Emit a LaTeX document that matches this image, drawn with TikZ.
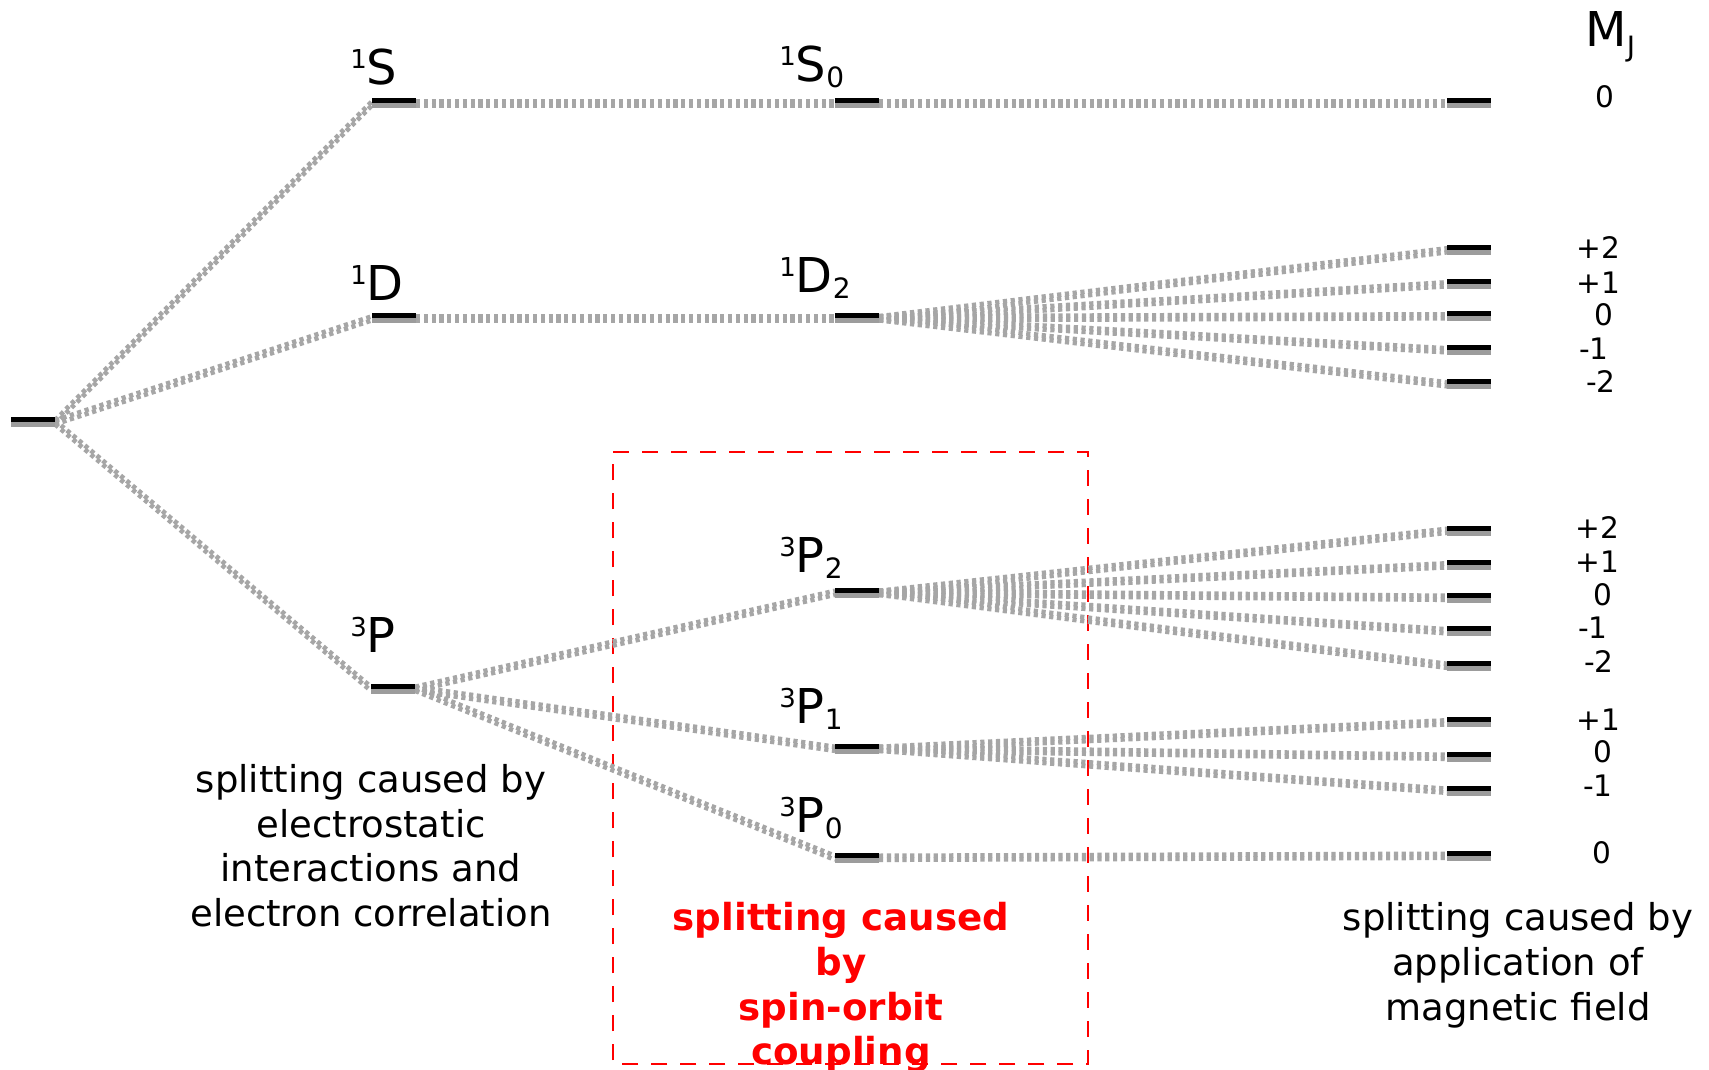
\documentclass[tikz,border=0pt]{standalone}
\usepackage{fontspec}
\setmainfont{DejaVu Sans}
\usetikzlibrary{calc}
\definecolor{conngray}{HTML}{A6A6A6}
\definecolor{shadgray}{HTML}{9C9C9C}
\newcommand{\lvlname}[3]{\raisebox{8pt}{\fontsize{13}{13}\selectfont #1}#2\raisebox{-3pt}{\fontsize{14}{14}\selectfont #3}}
\newcommand{\conn}[2]{%
  \draw[cn] ([yshift=-0.4pt]#1.east) -- ([yshift=-0.4pt]#2.west);
  \draw[cn] ([yshift=-2.4pt]#1.east) -- ([yshift=-2.4pt]#2.west);}
\begin{document}
\begin{tikzpicture}[x=0.5pt,y=-0.5pt,
  lvl/.style={minimum width=22pt, minimum height=2.5pt, inner sep=0pt, outer sep=0pt, draw=none},
  cn/.style={draw=conngray, line width=2.3pt, dash pattern=on 2.1pt off 1.8pt},
  term/.style={anchor=base west, inner sep=0pt, font=\fontsize{24}{24}\selectfont},
  mjval/.style={anchor=base, inner sep=0pt, font=\fontsize{14.8}{14.8}\selectfont},
  desc/.style={anchor=base, inner sep=0pt, font=\fontsize{18.5}{22}\selectfont},
  redtxt/.style={anchor=base, inner sep=0pt, text=red, font=\fontsize{18.6}{22}\selectfont\bfseries},
  boxline/.style={line width=1pt, dash pattern=on 8pt off 6.5pt}]
\useasboundingbox (0,0) rectangle (1709,1070);
\fill[white] (0,0) rectangle (1709,1070);

% levels
\node[lvl] (g) at (33,419.5) {};
\node[lvl] (S) at (394,100.5) {};
\node[lvl] (D) at (394,315.5) {};
\node[lvl] (P) at (393,686) {};
\node[lvl] (S0) at (857,100.5) {};
\node[lvl] (D2) at (857,315.5) {};
\node[lvl] (P2) at (857,590) {};
\node[lvl] (P1) at (857,746) {};
\node[lvl] (P0) at (857,855) {};
\node[lvl] (mS) at (1469,100.5) {};
\node[lvl] (mDa) at (1469,247.5) {};
\node[lvl] (mDb) at (1469,281.5) {};
\node[lvl] (mDc) at (1469,313.5) {};
\node[lvl] (mDd) at (1469,347.5) {};
\node[lvl] (mDe) at (1469,381.5) {};
\node[lvl] (mPa) at (1469,528) {};
\node[lvl] (mPb) at (1469,562.5) {};
\node[lvl] (mPc) at (1469,595) {};
\node[lvl] (mPd) at (1469,628.5) {};
\node[lvl] (mPe) at (1469,663) {};
\node[lvl] (mQa) at (1469,719.5) {};
\node[lvl] (mQb) at (1469,754) {};
\node[lvl] (mQc) at (1469,788) {};
\node[lvl] (mR) at (1469,853) {};

% red dashed box
\coordinate (b1) at (613,452);
\coordinate (b2) at (1088,1064);
\draw[boxline, shadgray, yshift=-1.75pt] (b1) -| (b2) -| (b1);
\draw[boxline, red] (b1) -| (b2) -| (b1);

% connectors
\conn{g}{S}
\conn{g}{D}
\conn{g}{P}
\conn{S}{S0}
\conn{D}{D2}
\conn{P}{P2}
\conn{P}{P1}
\conn{P}{P0}
\conn{S0}{mS}
\foreach \t in {mDa,mDb,mDc,mDd,mDe}{\conn{D2}{\t}}
\foreach \t in {mPa,mPb,mPc,mPd,mPe}{\conn{P2}{\t}}
\foreach \t in {mQa,mQb,mQc}{\conn{P1}{\t}}
\conn{P0}{mR}

% bars on top
\foreach \n in {g,S,D,P,S0,D2,P2,P1,P0,mS,mDa,mDb,mDc,mDd,mDe,mPa,mPb,mPc,mPd,mPe,mQa,mQb,mQc,mR}{
  \fill[black] (\n.north west) rectangle (\n.south east);
  \fill[shadgray] (\n.south west) rectangle ++(44,5);
}

% term labels
\node[term] (tS) at (350,85) {\lvlname{1}{S}{}};
\node[term] (tD) at (350,300) {\lvlname{1}{D}{}};
\node[term] (tP) at (350,652) {\lvlname{3}{P}{}};
\node[term] (tS0) at (779,82) {\lvlname{1}{S}{0}};
\node[term] (tD2) at (779,292) {\lvlname{1}{D}{2}};
\node[term] (tP2) at (779,572) {\lvlname{3}{P}{2}};
\node[term] (tP1) at (779,723) {\lvlname{3}{P}{1}};
\node[term] (tP0) at (779,832) {\lvlname{3}{P}{0}};
\node[term] (mj) at (1585,47) {M\raisebox{-5pt}{\fontsize{14}{14}\selectfont J}};

% MJ values
\node[mjval] (v1) at (1605,108) {0};
\node[mjval] (v2) at (1598,258) {+2};
\node[mjval] (v3) at (1598,293) {+1};
\node[mjval] (v4) at (1604,325) {0};
\node[mjval] (v5) at (1594,359) {-1};
\node[mjval] (v6) at (1601,392) {-2};
\node[mjval] (v7) at (1597,538) {+2};
\node[mjval] (v8) at (1597,572) {+1};
\node[mjval] (v9) at (1603,605) {0};
\node[mjval] (v10) at (1593,638) {-1};
\node[mjval] (v11) at (1599,672) {-2};
\node[mjval] (v12) at (1598,730) {+1};
\node[mjval] (v13) at (1603,762) {0};
\node[mjval] (v14) at (1598,796) {-1};
\node[mjval] (v15) at (1602,863) {0};

% descriptions
\node[desc] (l1) at (371,792) {splitting caused by};
\node[desc] (l2) at (371,837) {electrostatic};
\node[desc] (l3) at (371,881) {interactions and};
\node[desc] (l4) at (371,926) {electron correlation};
\node[desc] (r1) at (1518,930) {splitting caused by};
\node[desc] (r2) at (1518,975) {application of};
\node[desc] (r3) at (1518,1020) {magnetic field};
\node[redtxt] (c1) at (841,930) {splitting caused};
\node[redtxt] (c2) at (841,975) {by};
\node[redtxt] (c3) at (841,1020) {spin-orbit};
\node[redtxt] (c4) at (841,1064) {coupling};
\end{tikzpicture}
\end{document}
